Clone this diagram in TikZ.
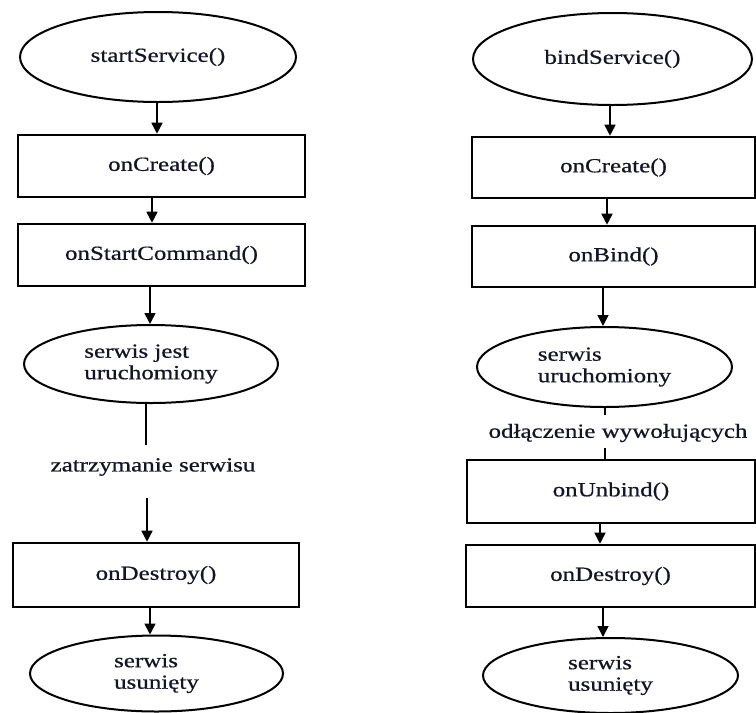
\documentclass[tikz,border=0pt]{standalone}
\usepackage{fontspec}
\setmainfont[FakeStretch=1.25,FakeBold=0.6]{Liberation Serif}
\usetikzlibrary{shapes.geometric,arrows.meta}
\definecolor{txt}{RGB}{20,20,40}
\begin{document}
\begin{tikzpicture}[x=1pt,y=-1pt,
  every node/.style={font=\fontsize{20}{21.5}\selectfont, text=txt},
  ell/.style={ellipse, draw, line width=2pt, inner sep=0pt, align=left},
  box/.style={rectangle, draw, line width=2.6pt, inner sep=0pt},
  arr/.style={line width=1.6pt, -{Triangle[length=11pt,width=11pt]}},
  ln/.style={line width=1.6pt}]
\useasboundingbox (0,0) rectangle (756,713);
% left column
\node[ell, minimum width=276pt, minimum height=90pt] (e1) at (158,57) {startService()};
\node[box, minimum width=287pt, minimum height=62pt] (b1) at (161.5,166) {onCreate()};
\node[box, minimum width=287pt, minimum height=62pt] (b2) at (161.5,255) {onStartCommand()};
\node[ell, minimum width=254pt, minimum height=78pt] (e2) at (151,364) {serwis jest\\uruchomiony};
\node (lab1) at (153,467) {zatrzymanie serwisu};
\node[box, minimum width=286pt, minimum height=64pt] (b3) at (156,575) {onDestroy()};
\node[ell, minimum width=253pt, minimum height=76pt] (e3) at (156.5,673.5) {serwis\\usunięty};
\coordinate (l1a) at (146,445);
\coordinate (l1b) at (147,498);
\draw[arr] ([xshift=-1pt]e1.south) -- ([xshift=-1pt]e1.south |- b1.north);
\draw[arr] ([xshift=-9.5pt]b1.south) -- ([xshift=-9.5pt]b1.south |- b2.north);
\draw[arr] ([xshift=-11.5pt]b2.south) -- ([xshift=-11.5pt]b2.south |- e2.north);
\draw[ln] ([xshift=-5pt]e2.south) -- (l1a);
\draw[arr] (l1b) -- (l1b |- b3.north);
\draw[arr] ([xshift=-6pt]b3.south) -- ([xshift=-6pt]b3.south |- e3.north);
% right column
\node[ell, minimum width=279pt, minimum height=92pt] (f1) at (612.5,59) {bindService()};
\node[box, minimum width=283pt, minimum height=61pt] (c1) at (613.5,167.5) {onCreate()};
\node[box, minimum width=283pt, minimum height=61pt] (c2) at (613.5,256.5) {onBind()};
\node[ell, minimum width=255pt, minimum height=80pt] (f2) at (604.5,367) {serwis\\uruchomiony};
\node (lab2) at (618,433) {odłączenie wywołujących};
\node[box, minimum width=288pt, minimum height=63pt] (c3) at (611,491.5) {onUnbind()};
\node[box, minimum width=289pt, minimum height=62pt] (c4) at (610.5,576) {onDestroy()};
\node[ell, minimum width=255pt, minimum height=75pt] (f3) at (610.5,675.5) {serwis\\usunięty};
\coordinate (r1a) at (605,415);
\coordinate (r1b) at (605,448);
\draw[arr] ([xshift=-2.5pt]f1.south) -- ([xshift=-2.5pt]f1.south |- c1.north);
\draw[arr] ([xshift=-6.5pt]c1.south) -- ([xshift=-6.5pt]c1.south |- c2.north);
\draw[arr] ([xshift=-10.5pt]c2.south) -- ([xshift=-10.5pt]c2.south |- f2.north);
\draw[ln] (f2.south -| r1a) -- (r1a);
\draw[ln] (r1b) -- (r1b |- c3.north);
\draw[arr] ([xshift=-11pt]c3.south) -- ([xshift=-11pt]c3.south |- c4.north);
\draw[arr] ([xshift=-7.5pt]c4.south) -- ([xshift=-7.5pt]c4.south |- f3.north);
\end{tikzpicture}
\end{document}
